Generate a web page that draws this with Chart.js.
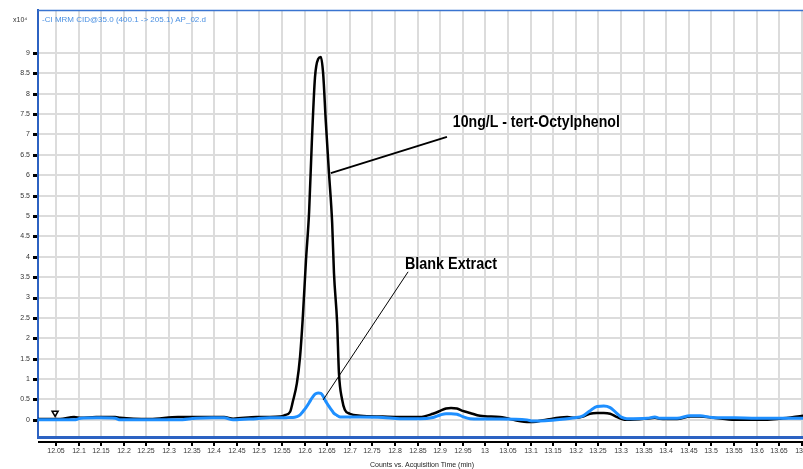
<!DOCTYPE html>
<html>
<head>
<meta charset="utf-8">
<script src="https://cdn.jsdelivr.net/npm/chart.js@4.4.1/dist/chart.umd.min.js"></script>
<style>
html,body{margin:0;padding:0;background:#fff;overflow:hidden;}
#wrap{width:803px;height:469px;}
canvas{display:block;}
</style>
</head>
<body>
<div id="wrap"><canvas id="c" width="803" height="469"></canvas></div>
<script>
// ---- data ----
const times = [12.010,12.059,12.090,12.105,12.139,12.147,12.181,12.192,12.258,12.320,12.360,12.395,12.422,12.442,12.493,12.523,12.546,12.557,12.568,12.574,12.583,12.590,12.596,12.603,12.610,12.616,12.623,12.630,12.636,12.641,12.647,12.654,12.661,12.665,12.672,12.676,12.683,12.689,12.700,12.723,12.773,12.811,12.855,12.884,12.900,12.913,12.924,12.937,12.950,12.966,12.988,13.032,13.092,13.105,13.132,13.181,13.198,13.216,13.231,13.247,13.262,13.276,13.289,13.302,13.313,13.358,13.375,13.386,13.424,13.453,13.475,13.501,13.552,13.601,13.652,13.703];
const octylphenol = [0.02,0.02,0.07,0.05,0.07,0.07,0.07,0.05,0.02,0.07,0.07,0.07,0.07,0.03,0.07,0.07,0.08,0.12,0.2,0.45,0.9,1.55,2.5,3.9,5.1,6.8,8.4,8.85,8.9,8.5,7.3,6.05,4.83,3.6,2.38,1.15,0.5,0.25,0.15,0.1,0.08,0.07,0.07,0.15,0.22,0.28,0.29,0.28,0.22,0.17,0.1,0.07,-0.05,-0.05,0.0,0.07,0.05,0.08,0.15,0.17,0.17,0.15,0.08,0.02,0.0,0.03,0.05,0.03,0.02,0.08,0.08,0.06,0.0,0.0,0.03,0.1];
const blank = [0.0,0.0,0.0,0.04,0.05,0.05,0.04,0.0,0.0,0.0,0.04,0.05,0.05,0.0,0.03,0.05,0.05,0.05,0.06,0.06,0.08,0.12,0.2,0.3,0.42,0.53,0.63,0.66,0.65,0.58,0.45,0.33,0.22,0.16,0.11,0.08,0.07,0.07,0.07,0.07,0.06,0.03,0.03,0.06,0.12,0.15,0.15,0.14,0.08,0.03,0.02,0.02,0.0,-0.03,-0.02,0.03,0.05,0.1,0.22,0.33,0.34,0.3,0.18,0.06,0.03,0.04,0.07,0.04,0.04,0.1,0.1,0.06,0.05,0.04,0.04,0.04];
const xTicks = [12.05,12.1,12.15,12.2,12.25,12.3,12.35,12.4,12.45,12.5,12.55,12.6,12.65,12.7,12.75,12.8,12.85,12.9,12.95,13.0,13.05,13.1,13.15,13.2,13.25,13.3,13.35,13.4,13.45,13.5,13.55,13.6,13.65,13.7];
const yTicks = [0,0.5,1,1.5,2,2.5,3,3.5,4,4.5,5,5.5,6,6.5,7,7.5,8,8.5,9];
const marker = [{x:12.048, y:0.17}];
const titleText = "-CI MRM CID@35.0 (400.1 -> 205.1) AP_02.d";
const yUnit = "x10\u2074";
const xTitle = "Counts vs. Acquisition Time (min)";
const notes = [
  {text:"10ng/L - tert-Octylphenol", from:[12.658,6.05], to:[12.915,6.94], at:[12.928,7.28], width:2, fit:167},
  {text:"Blank Extract", from:[12.641,0.49], to:[12.829,3.63], at:[12.822,3.80], width:1, fit:92}
];

const blueAxis = '#2c62c2';
const fmtX = v => String(parseFloat(Number(v).toFixed(2)));
const decor = {
  id:'decor',
  afterDraw(chart){
    const ctx = chart.ctx, a = chart.chartArea, xs = chart.scales.x, ys = chart.scales.y;
    ctx.save();
    // top border
    ctx.strokeStyle = '#3a74d0'; ctx.lineWidth = 1.5;
    ctx.beginPath(); ctx.moveTo(a.left, a.top+0.5); ctx.lineTo(a.right, a.top+0.5); ctx.stroke();
    // black axis line under the blue one
    ctx.strokeStyle = '#000'; ctx.lineWidth = 2;
    ctx.beginPath(); ctx.moveTo(a.left, a.bottom+5); ctx.lineTo(a.right, a.bottom+5); ctx.stroke();
    // x tick marks + labels
    ctx.font = '7px "Liberation Sans", Arial, sans-serif';
    ctx.textAlign='center'; ctx.textBaseline='middle';
    xTicks.forEach(t=>{
      const px = Math.round(xs.getPixelForValue(t));
      ctx.fillStyle='#000'; ctx.fillRect(px-1, a.bottom+5, 2, 4);
      ctx.fillStyle='#333'; ctx.fillText(fmtX(t), px, a.bottom+14);
    });
    // y tick marks
    yTicks.forEach(v=>{
      const py = Math.round(ys.getPixelForValue(v));
      ctx.fillStyle='#000'; ctx.fillRect(a.left-5, py-1, 4, 3);
    });
    // title texts
    ctx.fillStyle = '#4a90e2'; ctx.font = '8px "Liberation Sans", Arial, sans-serif';
    ctx.textBaseline = 'middle'; ctx.textAlign='left';
    ctx.fillText(titleText, a.left+4, 20);
    ctx.fillStyle = '#333'; ctx.font = '7px "Liberation Sans", Arial, sans-serif';
    ctx.fillText(yUnit, 13, 20);
    // x title
    ctx.textAlign='center'; ctx.fillStyle='#222'; ctx.font='7px "Liberation Sans", Arial, sans-serif';
    ctx.fillText(xTitle, 422, 465);
    // annotations
    notes.forEach(n=>{
      ctx.strokeStyle='#000'; ctx.lineWidth=n.width;
      ctx.beginPath();
      ctx.moveTo(xs.getPixelForValue(n.from[0]), ys.getPixelForValue(n.from[1]));
      ctx.lineTo(xs.getPixelForValue(n.to[0]), ys.getPixelForValue(n.to[1]));
      ctx.stroke();
      ctx.fillStyle='#000'; ctx.textAlign='left'; ctx.textBaseline='middle';
      ctx.font='bold 16px "Liberation Sans", Arial, sans-serif';
      ctx.fillText(n.text, xs.getPixelForValue(n.at[0]), ys.getPixelForValue(n.at[1]), n.fit);
    });
    ctx.restore();
  }
};

new Chart(document.getElementById('c'), {
  type:'line',
  data:{
    datasets:[
      {label:'10ng/L - tert-Octylphenol', order:2, data: times.map((t,i)=>({x:t,y:octylphenol[i]})), borderColor:'#000', borderWidth:2.5, pointRadius:0, cubicInterpolationMode:'monotone', fill:false},
      {label:'Blank Extract', order:1, data: times.map((t,i)=>({x:t,y:blank[i]})), borderColor:'#1e8fff', borderWidth:3, pointRadius:0, cubicInterpolationMode:'monotone', fill:false},
      {label:'marker', order:0, data: marker, showLine:false, pointStyle:'triangle', rotation:180, pointRadius:3.5, borderColor:'#000', borderWidth:1.5, backgroundColor:'#fff'}
    ]
  },
  options:{
    responsive:false, animation:false,
    layout:{autoPadding:false, padding:{top:10,left:0,right:0,bottom:0}},
    plugins:{legend:{display:false}, tooltip:{enabled:false}},
    scales:{
      x:{type:'linear', min:12.0102, max:13.7027,
        afterFit(s){ s.height = 32; s.paddingRight = 0; s.paddingLeft = 0; },
        afterBuildTicks(s){ s.ticks = xTicks.map(v=>({value:v})); },
        grid:{color:'#dcdcdc', lineWidth:2, drawTicks:false},
        border:{color:blueAxis, width:3},
        ticks:{display:false, autoSkip:false, maxRotation:0}
      },
      y:{type:'linear', min:-0.42, max:10.05,
        afterFit(s){ s.width = 38; s.paddingTop = 0; s.paddingBottom = 0; },
        afterBuildTicks(s){ s.ticks = yTicks.map(v=>({value:v})); },
        grid:{color:'#dcdcdc', lineWidth:2, drawTicks:false},
        border:{color:blueAxis, width:2},
        ticks:{padding:8, color:'#333', font:{size:7, family:'"Liberation Sans", Arial, sans-serif'},
          callback:(v)=>String(v)}
      }
    }
  },
  plugins:[decor]
});
</script>
</body>
</html>
